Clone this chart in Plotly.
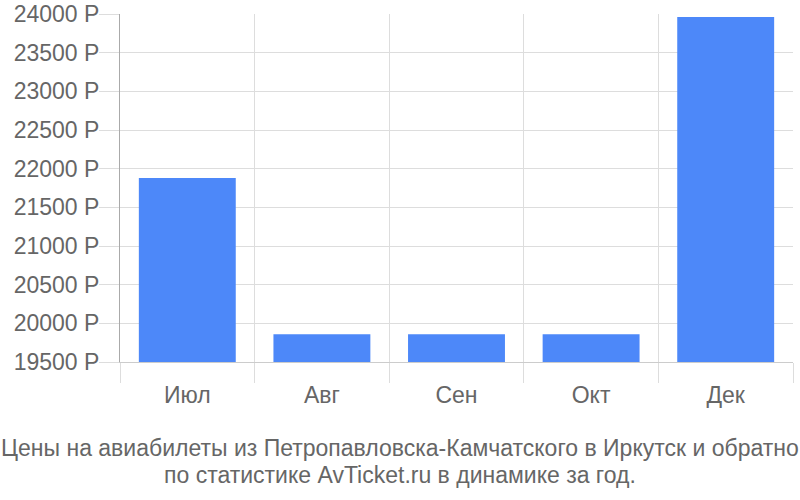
import plotly.graph_objects as go

months = ["Июл", "Авг", "Сен", "Окт", "Дек"]
prices = [21880, 19860, 19860, 19860, 23960]
y_ticks = [19500, 20000, 20500, 21000, 21500, 22000, 22500, 23000, 23500, 24000]
y_labels = [f"{v} Р" for v in y_ticks]
title_lines = ["Цены на авиабилеты из Петропавловска-Камчатского в Иркутск и обратно",
               "по статистике AvTicket.ru в динамике за год."]

TEXT = "#666666"
FONT = "Liberation Sans, Arial, sans-serif"
FS = 23

fig = go.Figure(go.Bar(x=months, y=prices, marker_color="#4d88f9",
                       marker_line_width=0, hoverinfo="skip"))

anns = []
for line, shift in zip(title_lines, [-86, -113]):
    anns.append(dict(
        text=line, xref="paper", yref="paper", x=0.5, y=0,
        xanchor="center", yanchor="middle", xshift=-56.5, yshift=shift,
        showarrow=False, font=dict(family=FONT, size=FS, color=TEXT)))

fig.update_layout(
    width=800, height=500,
    margin=dict(l=120, r=7, t=14, b=138, autoexpand=False),
    plot_bgcolor="white", paper_bgcolor="white",
    bargap=0.28,
    showlegend=False,
    font=dict(family=FONT, size=FS, color=TEXT),
    annotations=anns,
)
fig.update_xaxes(
    type="category", tickson="boundaries", automargin=False,
    showgrid=True, gridcolor="#dddddd", gridwidth=1,
    ticks="outside", ticklen=20, tickcolor="#dddddd",
    ticklabelstandoff=12,
    showline=True, linecolor="#cccccc", mirror=False,
    tickfont=dict(family=FONT, size=FS, color=TEXT),
)
fig.update_yaxes(
    range=[19500, 24000], tickvals=y_ticks, ticktext=y_labels, automargin=False,
    showgrid=True, gridcolor="#dddddd", gridwidth=1,
    ticks="outside", ticklen=20, tickcolor="#dddddd",
    ticklabelstandoff=-5,
    showline=True, linecolor="#aaaaaa",
    zeroline=False,
    tickfont=dict(family=FONT, size=FS, color=TEXT),
)
fig.write_html("out.html", config={"displayModeBar": False},
               post_script="document.body.style.margin='0';")
